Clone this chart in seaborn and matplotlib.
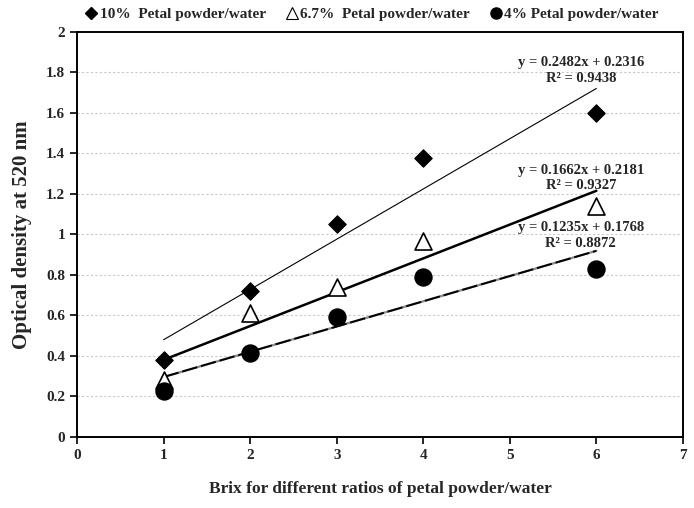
import numpy as np
import pandas as pd
import matplotlib
matplotlib.use("Agg")
import matplotlib.pyplot as plt
import seaborn as sns
from matplotlib.lines import Line2D
from matplotlib.ticker import FuncFormatter

sns.set_theme(style="white")
plt.rcParams['font.family'] = ['Liberation Serif', 'DejaVu Serif']
plt.rcParams['font.weight'] = 'bold'

brix = [1, 2, 3, 4, 6]
s10 = [0.38, 0.72, 1.05, 1.38, 1.60]
s67 = [0.28, 0.61, 0.74, 0.97, 1.14]
s4 = [0.225, 0.415, 0.59, 0.79, 0.83]
labels = ["10%  Petal powder/water", "6.7%  Petal powder/water", "4% Petal powder/water"]
equations = ["y = 0.2482x + 0.2316\nR\u00b2 = 0.9438",
             "y = 0.1662x + 0.2181\nR\u00b2 = 0.9327",
             "y = 0.1235x + 0.1768\nR\u00b2 = 0.8872"]
eq_pos = [(5.82, 1.81), (5.82, 1.28), (5.82, 0.995)]

fig = plt.figure(figsize=(6.94, 5.08), dpi=100)
ax = fig.add_axes([0.111, 0.140, 0.873, 0.797])

# grid
for v in np.arange(0.2, 2.0, 0.2):
    ax.axhline(v, color="#c8c8c8", lw=0.8, ls=(0, (2, 2)), zorder=0)

# trendlines
sns.regplot(x=brix, y=s10, ax=ax, ci=None, scatter=False, truncate=True,
            line_kws=dict(color="black", lw=0.8, zorder=2))
sns.regplot(x=brix, y=s67, ax=ax, ci=None, scatter=False, truncate=True,
            line_kws=dict(color="black", lw=1.8, zorder=2))
sns.regplot(x=brix, y=s4, ax=ax, ci=None, scatter=False, truncate=True,
            line_kws=dict(color="#888888", lw=1.6, zorder=2))
sns.regplot(x=brix, y=s4, ax=ax, ci=None, scatter=False, truncate=True,
            line_kws=dict(color="black", lw=1.4, ls=(0, (8, 2)), zorder=2))

# markers
sns.scatterplot(x=brix, y=s10, ax=ax, marker="D", s=80, color="black",
                edgecolor="black", zorder=4)
sns.scatterplot(x=brix, y=s67, ax=ax, marker="^", s=150, facecolor="white",
                edgecolor="black", linewidth=1.2, zorder=4)
sns.scatterplot(x=brix, y=s4, ax=ax, marker="o", s=150, color="black",
                edgecolor="black", zorder=5)

for txt, (xp, yp) in zip(equations, eq_pos):
    ax.text(xp, yp, txt, ha="center", va="center", fontsize=10.5,
            fontweight="bold", linespacing=1.25, zorder=6)

ax.set_xlim(0, 7)
ax.set_ylim(0, 2)
ax.set_xticks(range(0, 8))
ax.set_yticks(np.round(np.arange(0, 2.01, 0.2), 1))
ax.yaxis.set_major_formatter(FuncFormatter(lambda v, p: ("%.1f" % v).rstrip("0").rstrip(".") if v != 0 else "0"))
ax.tick_params(axis="both", which="major", direction="out", length=5, width=1.2,
               labelsize=11, left=True, bottom=True, color="black")
for lab in ax.get_xticklabels() + ax.get_yticklabels():
    lab.set_fontweight("bold")

for sp in ax.spines.values():
    sp.set_color("black")
    sp.set_linewidth(1.4)
    sp.set_visible(True)

ax.set_xlabel("Brix for different ratios of petal powder/water", fontsize=12.5,
              fontweight="bold", labelpad=14)
ax.set_ylabel("Optical density at 520 nm", fontsize=15, fontweight="bold", labelpad=10)

handles = [
    Line2D([], [], ls="none", marker="D", markersize=6, color="black"),
    Line2D([], [], ls="none", marker="^", markersize=8, markerfacecolor="white",
           markeredgecolor="black", markeredgewidth=0.8),
    Line2D([], [], ls="none", marker="o", markersize=8, color="black"),
]
fig.legend(handles, labels, loc="center", bbox_to_anchor=(0.535, 0.972), ncol=3,
           frameon=False, handletextpad=0.05, columnspacing=1.2,
           handlelength=1.0, prop=dict(weight="bold", size=11))

fig.savefig("out.png", dpi=100)
